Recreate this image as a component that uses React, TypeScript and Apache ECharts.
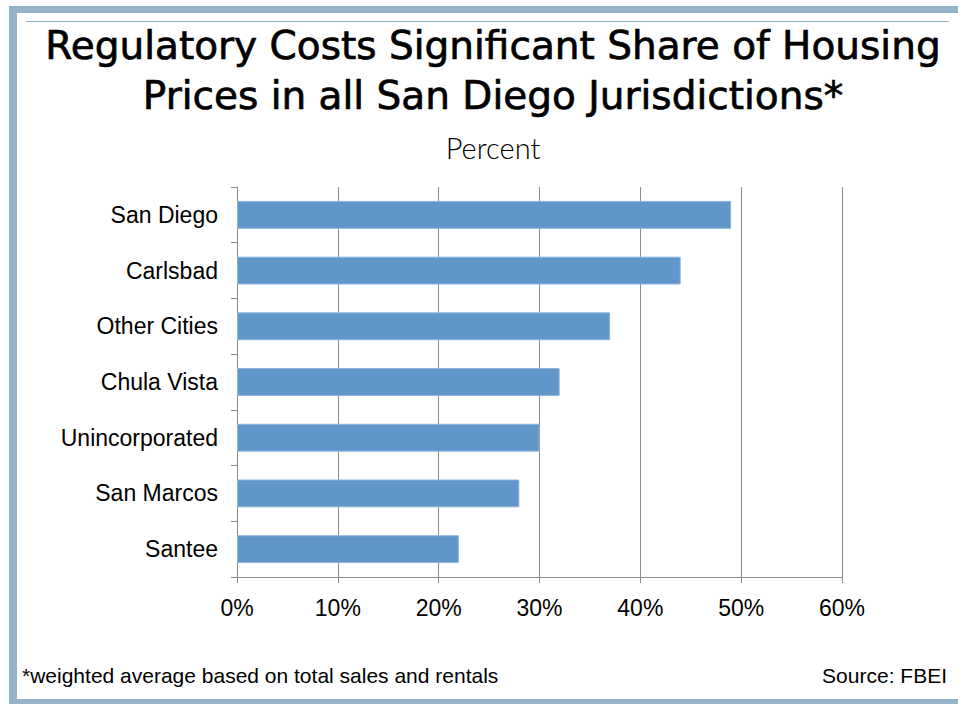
import React, { useEffect, useRef } from "react";
import * as echarts from "echarts";

const categories = ["San Diego", "Carlsbad", "Other Cities", "Chula Vista", "Unincorporated", "San Marcos", "Santee"];
const values = [49, 44, 37, 32, 30, 28, 22];
const titleLines = ["Regulatory Costs Significant Share of Housing", "Prices in all San Diego Jurisdictions*"];
const subtitle = "Percent";
const footnote = "*weighted average based on total sales and rentals";
const source = "Source: FBEI";

export default function App() {
  const ref = useRef<HTMLDivElement>(null);
  useEffect(() => {
    if (!ref.current) return;
    const chart = echarts.init(ref.current, null, { renderer: "svg" });
    const band = "#93b3c9";
    chart.setOption({
      animation: false,
      backgroundColor: "#ffffff",
      title: [
        {
          text: titleLines.join("\n"),
          left: 488,
          textAlign: "center",
          top: 15,
          textStyle: {
            fontFamily: "DejaVu Sans",
            fontSize: 39,
            fontWeight: 500,
            color: "#000",
            lineHeight: 50,
            textBorderColor: "#000",
            textBorderWidth: 0.7,
          },
        },
        {
          text: subtitle,
          left: 488,
          textAlign: "center",
          top: 128,
          textStyle: { fontFamily: "Lato", fontSize: 29, fontWeight: 300, color: "#000" },
        },
      ],
      graphic: [
        { type: "rect", shape: { x: 9, y: 6, width: 8, height: 697 }, style: { fill: band } },
        { type: "rect", shape: { x: 9, y: 6, width: 949, height: 7 }, style: { fill: band } },
        { type: "rect", shape: { x: 9, y: 699, width: 949, height: 5 }, style: { fill: band } },
        { type: "line", shape: { x1: 26, y1: 21.5, x2: 949, y2: 21.5 }, style: { stroke: "#8fb0c4", lineWidth: 1 } },
        { type: "text", left: 22, top: 665, style: { text: footnote, fontFamily: "Liberation Sans", fontSize: 21, fill: "#000" } },
        { type: "text", right: 11, top: 665, style: { text: source, fontFamily: "Liberation Sans", fontSize: 21, fill: "#000" } },
      ],
      grid: { left: 237, right: 116, top: 187, bottom: 127, containLabel: false },
      xAxis: {
        type: "value",
        min: 0,
        max: 60,
        interval: 10,
        axisLine: { show: true, lineStyle: { color: "#8c8c8c", width: 1 } },
        axisTick: { show: true, length: 6, lineStyle: { color: "#8c8c8c" } },
        splitLine: { show: true, lineStyle: { color: "#8c8c8c", width: 1 } },
        axisLabel: {
          formatter: "{value}%",
          fontFamily: "Liberation Sans",
          fontSize: 23,
          color: "#000",
          margin: 19,
        },
      },
      yAxis: {
        type: "category",
        data: categories,
        inverse: true,
        axisLine: { show: true, lineStyle: { color: "#8c8c8c", width: 1 } },
        axisTick: { show: true, length: 6, lineStyle: { color: "#8c8c8c" } },
        axisLabel: { fontFamily: "Liberation Sans", fontSize: 23, color: "#000", margin: 19 },
      },
      series: [
        {
          type: "bar",
          data: values,
          barCategoryGap: "50%",
          itemStyle: { color: "#6196c9", borderColor: "#8db4dc", borderWidth: 1 },
        },
      ],
    });
    return () => chart.dispose();
  }, []);
  return <div ref={ref} style={{ position: "fixed", left: 0, top: 0, width: 958, height: 704 }} />;
}
